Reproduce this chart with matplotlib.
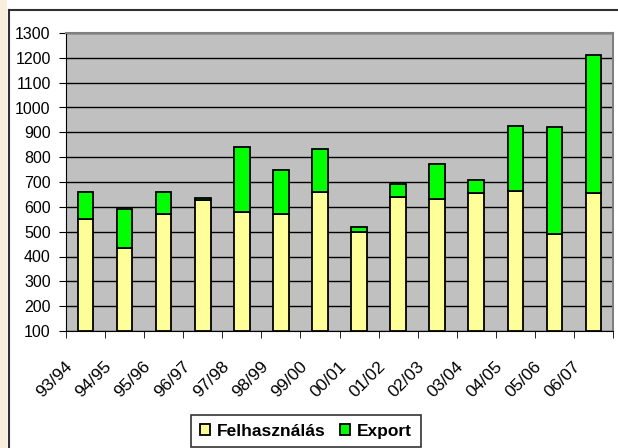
import matplotlib.pyplot as plt
from matplotlib.patches import Rectangle
from matplotlib.transforms import ScaledTranslation
import numpy as np

plt.rcParams['font.family'] = ['Liberation Sans', 'DejaVu Sans']

seasons = ['93/94', '94/95', '95/96', '96/97', '97/98', '98/99', '99/00',
           '00/01', '01/02', '02/03', '03/04', '04/05', '05/06', '06/07']
felhasznalas = [553, 435, 572, 628, 579, 572, 659, 498, 640, 630, 654, 665, 491, 654]
export = [106, 156, 87, 7, 260, 175, 172, 19, 52, 141, 54, 262, 429, 558]

W, H = 618, 448
fig = plt.figure(figsize=(W / 100, H / 100), dpi=100)
fig.patch.set_facecolor('white')

# beige strip on the left and the dark frame
fig.patches.append(Rectangle((0, 0), 7 / W, 1, transform=fig.transFigure,
                             facecolor='#f7efdc', edgecolor='none', zorder=0))
fig.add_artist(plt.Line2D([8.5 / W, 8.5 / W], [0, 1 - 10 / H], color='#303030', lw=1.5))
fig.add_artist(plt.Line2D([8.5 / W, 1], [1 - 10 / H, 1 - 10 / H], color='#303030', lw=1.5))

ax = fig.add_axes([66 / W, 1 - 331 / H, (613 - 66) / W, (331 - 33) / H])
ax.set_facecolor('#c0c0c0')

x = np.arange(len(seasons))
ax.bar(x, np.array(felhasznalas) - 100, bottom=100, width=0.4, color='#ffff99',
       edgecolor='black', linewidth=1.3, label='Felhasználás', zorder=3)
ax.bar(x, export, bottom=felhasznalas, width=0.4, color='#00ff00',
       edgecolor='black', linewidth=1.3, label='Export', zorder=3)

ax.set_ylim(100, 1300)
ax.set_yticks(range(100, 1301, 100))
ax.set_xlim(-0.5, len(seasons) - 0.5)
ax.yaxis.grid(True, color='black', lw=1)
ax.set_axisbelow(True)

ax.set_xticks(x)
ax.set_xticklabels(seasons, rotation=45, ha='right', va='top', fontsize=12.5)
ax.tick_params(axis='x', length=0, pad=20)
shift = ScaledTranslation(-10 / 100, 0, fig.dpi_scale_trans)
for lab in ax.get_xticklabels():
    lab.set_transform(lab.get_transform() + shift)
ax.set_xticks(np.arange(-0.5, len(seasons)), minor=True)
ax.tick_params(axis='x', which='minor', length=5, color='black')
ax.tick_params(axis='y', length=5, labelsize=11.5, pad=6)

for s in ['top', 'right']:
    ax.spines[s].set_color('#808080')
    ax.spines[s].set_linewidth(1.5)
for s in ['left', 'bottom']:
    ax.spines[s].set_color('black')

leg = fig.legend(loc='upper center', bbox_to_anchor=(306 / W, 1 - 415 / H), ncol=2,
                 prop={'weight': 'bold', 'size': 12.5}, frameon=True, fancybox=False,
                 edgecolor='black', handlelength=0.6, handleheight=0.6,
                 handletextpad=0.4, columnspacing=0.8, borderpad=0.5,
                 borderaxespad=0)
leg.get_frame().set_linewidth(1.2)

fig.savefig('out.png', dpi=100)
